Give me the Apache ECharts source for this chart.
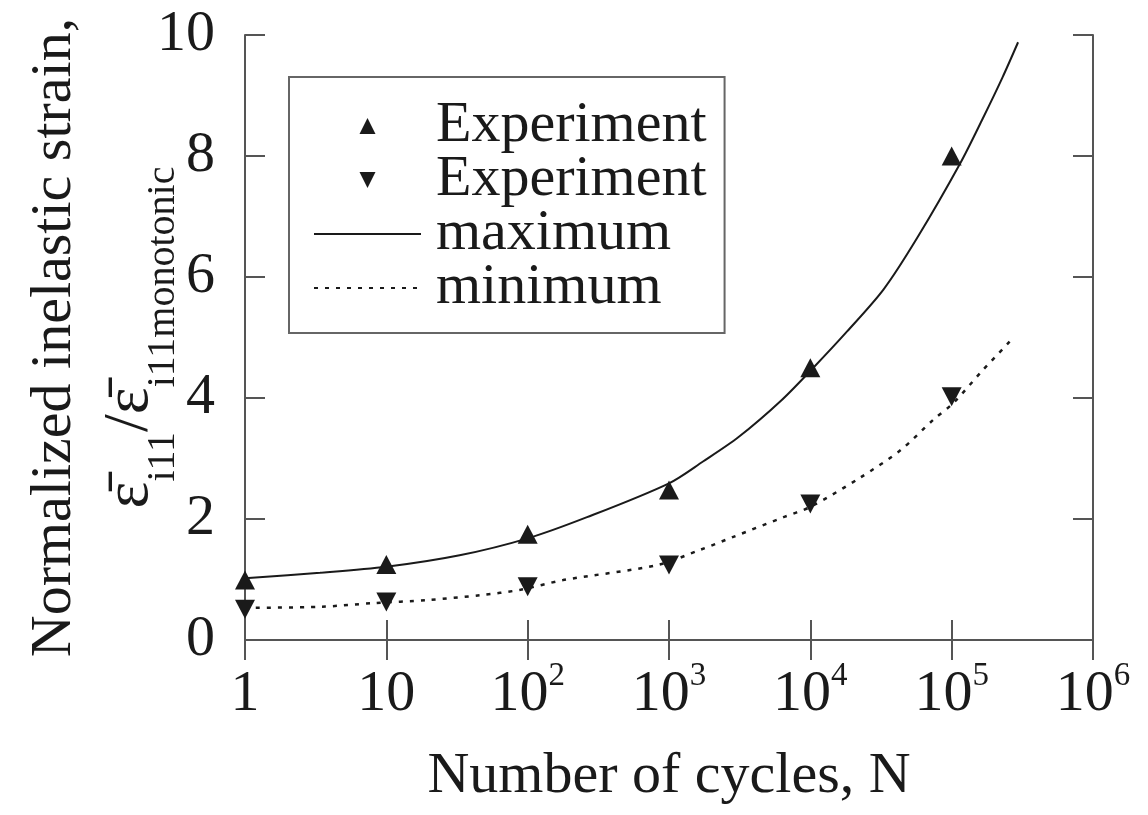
<!DOCTYPE html>
<html>
<head>
<meta charset="utf-8">
<script src="https://cdn.jsdelivr.net/npm/echarts@6/dist/echarts.min.js"></script>
<style>
html,body{margin:0;padding:0;background:#fff;}
#chart{width:1148px;height:815px;}
</style>
</head>
<body>
<div id="chart"></div>
<script>
// ---- data ----
const expCycles = [1, 10, 100, 1000, 10000, 100000];
const expMax = [0.99, 1.25, 1.75, 2.48, 4.5, 8.0];
const expMin = [0.51, 0.63, 0.88, 1.24, 2.25, 4.02];

const maxCycles = [1, 3.4, 10, 33, 100, 263, 1000, 1740, 3090, 6170, 10500, 18200, 33100, 57500, 115000, 166000, 229000, 295000];
const maxValues = [1.02, 1.11, 1.21, 1.40, 1.68, 2.03, 2.59, 2.95, 3.35, 3.95, 4.50, 5.10, 5.80, 6.66, 7.88, 8.62, 9.30, 9.88];

const minCycles = [1, 3.5, 8.1, 19.5, 45.7, 89, 178, 832, 1660, 2820, 6460, 10000, 22400, 43600, 74100, 102000, 166000, 257000];
const minValues = [0.53, 0.55, 0.61, 0.66, 0.74, 0.83, 0.99, 1.24, 1.49, 1.70, 2.03, 2.20, 2.68, 3.14, 3.64, 3.91, 4.46, 4.93];

const yTicks = [0, 2, 4, 6, 8, 10];
const xTickExponents = [0, 1, 2, 3, 4, 5, 6];

const seriesNames = ['Experiment (maximum)', 'Experiment (minimum)', 'maximum', 'minimum'];
const xTitle = 'Number of cycles, N';
const yTitleLine1 = 'Normalized inelastic strain,';

// ---- build ----
const FONT = "'Liberation Serif', 'Times New Roman', serif";
const INK = '#1a1a1a';
const AXIS = '#555';
const zip = (xs, ys) => xs.map((x, i) => [x, ys[i]]);

function xLabel(v) {
  const e = Math.round(Math.log10(v));
  if (xTickExponents.indexOf(e) < 0) return '';
  if (e === 0) return '{b|1}';
  if (e === 1) return '{b|10}';
  return '{b|10}{sup|' + e + '}';
}

const axisLineStyle = { show: true, lineStyle: { color: AXIS, width: 2 } };
const tickStyle = { show: true, inside: true, length: 20, lineStyle: { color: AXIS, width: 2 } };

const chart = echarts.init(document.getElementById('chart'), null, { renderer: 'canvas' });
chart.setOption({
  backgroundColor: '#fff',
  animation: false,
  textStyle: { fontFamily: FONT, color: INK },
  grid: { left: 245, right: 55, top: 35, bottom: 175, containLabel: false, outerBoundsMode: 'none' },
  legend: {
    data: [
      { name: seriesNames[0], icon: 'path://M0,10 L5,0 L10,10 Z' },
      { name: seriesNames[1], icon: 'path://M0,0 L10,0 L5,10 Z' },
      { name: seriesNames[2], itemStyle: { opacity: 0 } },
      { name: seriesNames[3], itemStyle: { opacity: 0 } }
    ],
    orient: 'vertical',
    left: 289,
    top: 77,
    padding: [20, 18, 16, 24],
    itemWidth: 107,
    itemHeight: 16,
    itemGap: -4,
    symbolKeepAspect: true,
    symbolRotate: 0,
    backgroundColor: '#fff',
    borderColor: '#666',
    borderWidth: 2,
    borderRadius: 0,
    formatter: name => name.replace(/ \(.*\)$/, ''),
    textStyle: { fontFamily: FONT, fontSize: 58, color: INK, padding: [0, 0, 0, 10] }
  },
  xAxis: [{
    type: 'log', logBase: 10, min: 1, max: 1e6, splitNumber: 6,
    position: 'bottom',
    name: xTitle, nameLocation: 'middle', nameGap: 108, nameMoveOverlap: false,
    nameTextStyle: { fontFamily: FONT, fontSize: 58, color: INK },
    axisLine: axisLineStyle, axisTick: tickStyle,
    minorTick: { show: false }, splitLine: { show: false },
    axisLabel: {
      margin: 20, color: INK, fontFamily: FONT, formatter: xLabel,
      rich: {
        b: { fontFamily: FONT, fontSize: 58, color: INK, padding: [6, 0, 0, 0] },
        sup: { fontFamily: FONT, fontSize: 33, color: INK, verticalAlign: 'top' }
      }
    }
  }, {
    type: 'log', logBase: 10, min: 1, max: 1e6, splitNumber: 6,
    position: 'top',
    axisLine: axisLineStyle, axisTick: tickStyle,
    axisLabel: { show: false }, splitLine: { show: false }
  }],
  yAxis: [{
    type: 'value', min: 0, max: 10, interval: 2,
    position: 'left',
    name: '{a|' + yTitleLine1 + '}\n{e|ε\u0304}{s|i11}{e|/ε\u0304}{s|i11monotonic}',
    nameLocation: 'middle', nameRotate: 90, nameGap: 62, nameMoveOverlap: false,
    nameTextStyle: {
      fontFamily: FONT, color: INK,
      rich: {
        a: { fontFamily: FONT, fontSize: 58, color: INK },
        e: { fontFamily: FONT, fontSize: 64, color: INK, verticalAlign: 'top', padding: [14, 0, 0, 0] },
        s: { fontFamily: FONT, fontSize: 40, color: INK, verticalAlign: 'top', padding: [59, 0, 0, 0] }
      }
    },
    axisLine: axisLineStyle, axisTick: tickStyle, splitLine: { show: false },
    axisLabel: { margin: 30, fontFamily: FONT, fontSize: 58, color: INK,
      formatter: v => (yTicks.indexOf(v) >= 0 ? String(v) : '') }
  }, {
    type: 'value', min: 0, max: 10, interval: 2,
    position: 'right',
    axisLine: axisLineStyle, axisTick: tickStyle,
    axisLabel: { show: false }, splitLine: { show: false }
  }],
  series: [
    {
      name: seriesNames[2], type: 'line', data: zip(maxCycles, maxValues),
      symbol: 'none', smooth: 0.3, z: 2,
      lineStyle: { color: INK, width: 2, type: 'solid' },
      itemStyle: { color: INK }
    },
    {
      name: seriesNames[3], type: 'line', data: zip(minCycles, minValues),
      symbol: 'none', smooth: 0.3, z: 2,
      lineStyle: { color: INK, width: 2.5, type: [4, 7] },
      itemStyle: { color: INK }
    },
    {
      name: seriesNames[0], type: 'scatter', data: zip(expCycles, expMax),
      symbol: 'triangle', symbolSize: [20, 19], z: 4,
      itemStyle: { color: INK, opacity: 1 }
    },
    {
      name: seriesNames[1], type: 'scatter', data: zip(expCycles, expMin),
      symbol: 'triangle', symbolRotate: 180, symbolSize: [20, 19], z: 4,
      itemStyle: { color: INK, opacity: 1 }
    }
  ]
});
</script>
</body>
</html>
